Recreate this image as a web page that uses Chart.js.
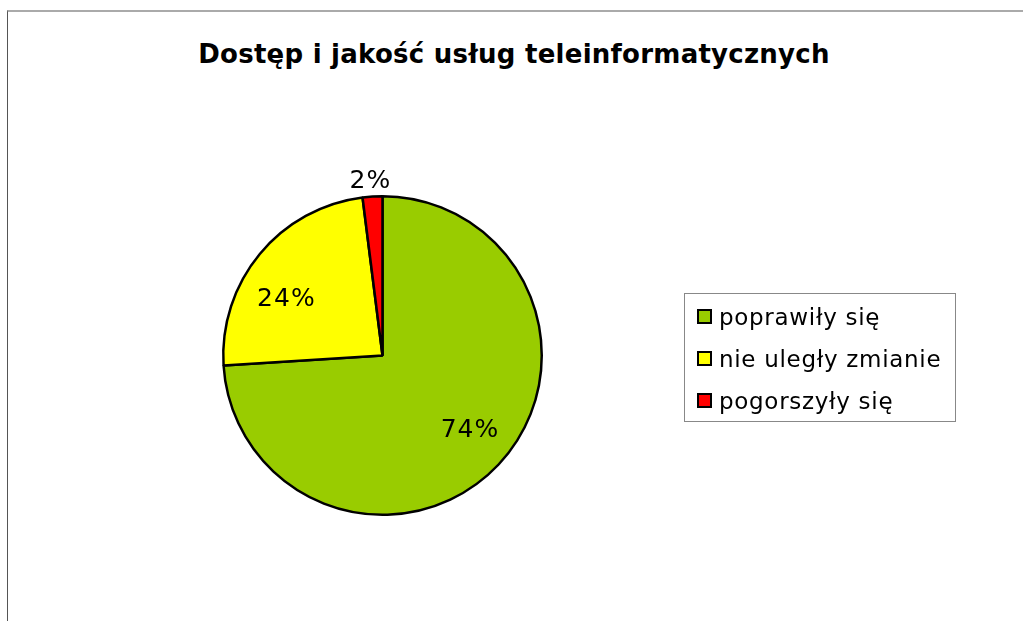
<!DOCTYPE html>
<html lang="pl">
<head>
<meta charset="utf-8">
<title>Dostęp i jakość usług teleinformatycznych</title>
<script src="https://cdn.jsdelivr.net/npm/chart.js@4/dist/chart.umd.min.js"></script>
<style>
    html, body {
        margin: 0;
        padding: 0;
        width: 1023px;
        height: 621px;
        overflow: hidden;
        background: #fff;
        font-family: 'DejaVu Sans', Verdana, sans-serif;
    }
    #frame {
        position: absolute;
        left: 7px;
        top: 10px;
        width: 1030px;
        height: 700px;
        border-left: 1px solid #555;
        border-top: 2px solid #aaa;
        box-sizing: border-box;
    }
    #title {
        position: absolute;
        left: 0;
        width: 1028px;
        top: 39px;
        text-align: center;
        font-weight: bold;
        font-size: 26px;
        letter-spacing: 0.25px;
        color: #000;
    }
    #chartWrap {
        position: absolute;
        left: 0;
        top: 0;
    }
    #legend {
        position: absolute;
        left: 684px;
        top: 293px;
        width: 272px;
        height: 129px;
        border: 1px solid #888;
        box-sizing: border-box;
        padding-top: 2px;
    }
    .legend-item {
        position: relative;
        height: 42px;
        line-height: 42px;
        font-size: 23px;
        letter-spacing: 0.7px;
        color: #000;
        padding-left: 34px;
        white-space: nowrap;
    }
    .legend-box {
        position: absolute;
        left: 12px;
        top: 13px;
        width: 11px;
        height: 11px;
        border: 2px solid #000;
    }
</style>
</head>
<body>
<div id="frame"></div>
<div id="title">Dostęp i jakość usług teleinformatycznych</div>
<div id="chartWrap"><canvas id="pieChart" width="1023" height="621"></canvas></div>
<div id="legend"></div>

<script>
// Chart data
const labels = ['poprawiły się', 'nie uległy zmianie', 'pogorszyły się'];
const values = [74, 24, 2];
const colors = ['#99cc00', '#ffff00', '#ff0000'];

// small nudges of the percentage labels, like the original's placement
const labelNudge = [[5, -2], [-9, 16], [-1, 2]];

// Percentage labels drawn on top of the slices
const sliceLabels = {
    id: 'sliceLabels',
    afterDatasetsDraw(chart) {
        const ctx = chart.ctx;
        const meta = chart.getDatasetMeta(0);
        const total = values.reduce((a, b) => a + b, 0);
        ctx.save();
        ctx.font = '25px "DejaVu Sans", Verdana, sans-serif';
        ctx.letterSpacing = '1px';
        ctx.fillStyle = '#000';
        ctx.textAlign = 'center';
        ctx.textBaseline = 'middle';
        meta.data.forEach((arc, i) => {
            const p = arc.getProps(['x', 'y', 'startAngle', 'endAngle', 'outerRadius'], true);
            const mid = (p.startAngle + p.endAngle) / 2;
            const pct = values[i] / total;
            // small slices get their label outside the pie
            const r = pct < 0.05 ? p.outerRadius + 17 : p.outerRadius * 0.71;
            const x = p.x + Math.cos(mid) * r + labelNudge[i][0];
            const y = p.y + Math.sin(mid) * r + labelNudge[i][1];
            ctx.fillText(Math.round(pct * 100) + '%', x, y);
        });
        ctx.restore();
    }
};

const chart = new Chart(document.getElementById('pieChart'), {
    type: 'pie',
    data: {
        labels: labels,
        datasets: [{
            data: values,
            backgroundColor: colors,
            borderColor: '#000',
            borderWidth: 2.5
        }]
    },
    options: {
        responsive: false,
        animation: false,
        layout: {
            padding: { left: 222, top: 195, right: 480, bottom: 105 }
        },
        plugins: {
            legend: { display: false },
            title: { display: false },
            tooltip: { enabled: false }
        }
    },
    plugins: [sliceLabels]
});

// Legend
const legendEl = document.getElementById('legend');
labels.forEach((label, i) => {
    const item = document.createElement('div');
    item.className = 'legend-item';
    const box = document.createElement('span');
    box.className = 'legend-box';
    box.style.background = colors[i];
    item.appendChild(box);
    item.appendChild(document.createTextNode(label));
    legendEl.appendChild(item);
});
</script>
</body>
</html>
